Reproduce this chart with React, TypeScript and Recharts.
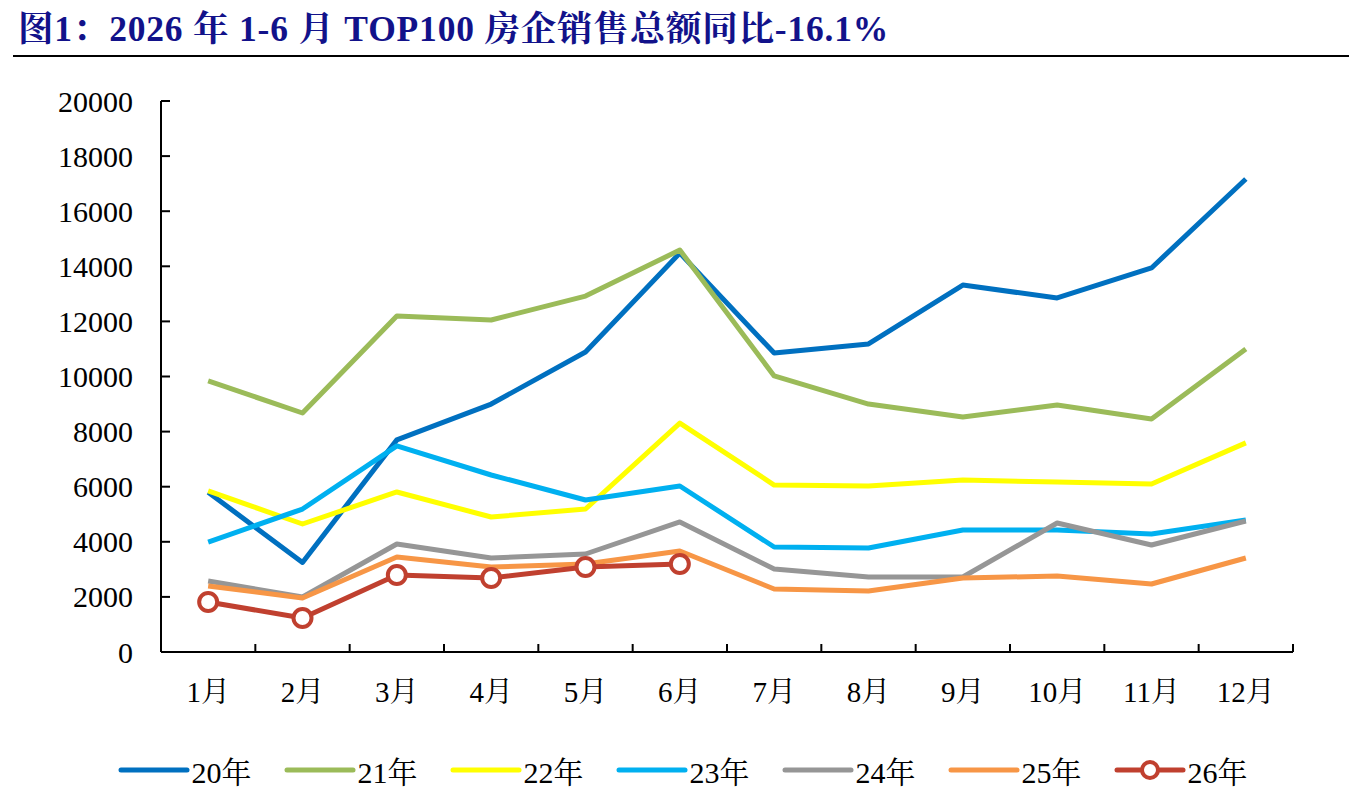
import React from "react";
import { LineChart, Line, XAxis, YAxis } from "recharts";

const MONTHS = ["1月", "2月", "3月", "4月", "5月", "6月", "7月", "8月", "9月", "10月", "11月", "12月"];
const Y_TICKS = [0, 2000, 4000, 6000, 8000, 10000, 12000, 14000, 16000, 18000, 20000];

// monthly sales, 亿元
const Y20 = [5800, 3250, 7700, 9000, 10890, 14480, 10850, 11180, 13320, 12850, 13940, 17170];
const Y21 = [9840, 8675, 12200, 12050, 12920, 14590, 10020, 9000, 8530, 8965, 8460, 11000];
const Y22 = [5845, 4646, 5808, 4900, 5190, 8310, 6060, 6025, 6240, 6170, 6100, 7590];
const Y23 = [3990, 5190, 7480, 6425, 5517, 6025, 3811, 3775, 4430, 4430, 4280, 4790];
const Y24 = [2577, 1996, 3920, 3412, 3557, 4719, 3013, 2722, 2722, 4682, 3884, 4755];
const Y25 = [2396, 1960, 3448, 3085, 3194, 3666, 2287, 2214, 2686, 2758, 2468, 3412];
const Y26 = [1815, 1234, 2795, 2686, 3085, 3194];

const SERIES = [
  { key: "s20", name: "20年", color: "#0070C0", values: Y20 },
  { key: "s21", name: "21年", color: "#9BBB59", values: Y21 },
  { key: "s22", name: "22年", color: "#FFFF00", values: Y22 },
  { key: "s23", name: "23年", color: "#00B0F0", values: Y23 },
  { key: "s24", name: "24年", color: "#969696", values: Y24 },
  { key: "s25", name: "25年", color: "#F79646", values: Y25 },
  { key: "s26", name: "26年", color: "#C0402F", values: Y26, marker: true },
];

const data = MONTHS.map((m, i) => {
  const row: any = { x: i + 0.5, month: m };
  SERIES.forEach((s) => {
    row[s.key] = s.values[i];
  });
  return row;
});

// boundaries get a tick mark, band centres get the month label
const X_TICKS: number[] = [];
for (let i = 0; i <= 24; i++) X_TICKS.push(i / 2);

const FONT = '"Liberation Serif", "Noto Serif CJK SC", "Noto Sans CJK SC", serif';

const XTick = ({ x, y, payload }: any) => {
  const v = payload.value;
  if (Number.isInteger(v)) {
    return <line x1={x} x2={x} y1={y} y2={y - 8} stroke="#000" strokeWidth={2} />;
  }
  return (
    <text x={x} y={y + 40} dy="0.35em" textAnchor="middle" fontSize={29} fontFamily={FONT} fill="#000">
      {MONTHS[Math.floor(v)]}
    </text>
  );
};

const YTick = ({ x, y, payload }: any) => (
  <g>
    <line x1={x} x2={x + 9} y1={y} y2={y} stroke="#000" strokeWidth={2} />
    <text x={x - 28} y={y} dy="0.35em" textAnchor="end" fontSize={30} fontFamily={FONT} fill="#000">
      {payload.value}
    </text>
  </g>
);

const LegendRow = () => (
  <div
    style={{
      position: "absolute",
      top: 740,
      left: 0,
      width: 1349,
      display: "flex",
      justifyContent: "center",
      gap: 32,
      fontFamily: FONT,
      fontSize: 30,
    }}
  >
    {SERIES.map((s) => (
      <div key={s.key} style={{ display: "flex", alignItems: "center" }}>
        <svg width={72} height={34}>
          <line x1={3} x2={69} y1={17} y2={17} stroke={s.color} strokeWidth={5} strokeLinecap="round" />
          {s.marker && <circle cx={36} cy={17} r={8} fill="#fff" stroke={s.color} strokeWidth={4} />}
        </svg>
        <span style={{ marginLeft: 2 }}>{s.name}</span>
      </div>
    ))}
  </div>
);

export default function App() {
  return (
    <div style={{ position: "relative", width: 1349, height: 790, background: "#fff" }}>
      <div
        style={{
          position: "absolute",
          left: 10,
          top: 1,
          fontFamily: FONT,
          fontWeight: "bold",
          fontSize: 35.5,
          letterSpacing: 0.8,
          color: "#12128A",
          whiteSpace: "nowrap",
          lineHeight: "40px",
        }}
      >
        图1：2026 年 1-6 月 TOP100 房企销售总额同比-16.1%
      </div>
      <div style={{ position: "absolute", left: 5, top: 47, width: 1336, height: 2, background: "#000" }} />
      <div style={{ position: "absolute", left: 0, top: 0 }}>
        <LineChart width={1349} height={714} data={data} margin={{ top: 93, right: 64, left: 53, bottom: 10 }}>
          <XAxis
            dataKey="x"
            type="number"
            domain={[0, 12]}
            ticks={X_TICKS}
            interval={0}
            tick={<XTick />}
            tickLine={false}
            tickSize={0}
            tickMargin={0}
            height={60}
            axisLine={{ stroke: "#000", strokeWidth: 2 }}
          />
          <YAxis
            domain={[0, 20000]}
            ticks={Y_TICKS}
            interval={0}
            tick={<YTick />}
            tickLine={false}
            tickSize={0}
            tickMargin={0}
            width={100}
            axisLine={{ stroke: "#000", strokeWidth: 2 }}
          />
          {SERIES.map((s) => (
            <Line
              key={s.key}
              dataKey={s.key}
              name={s.name}
              stroke={s.color}
              strokeWidth={5}
              strokeLinejoin="round"
              dot={s.marker ? { r: 9, fill: "#fff", stroke: s.color, strokeWidth: 4 } : false}
              activeDot={false}
              isAnimationActive={false}
            />
          ))}
        </LineChart>
      </div>
      <LegendRow />
    </div>
  );
}
